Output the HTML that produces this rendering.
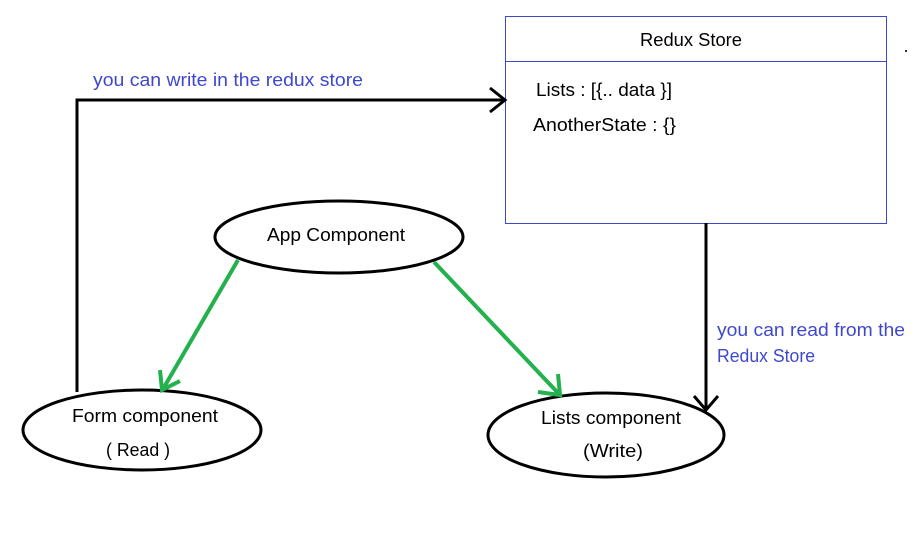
<!DOCTYPE html>
<html><head><meta charset="utf-8"><style>
html,body{margin:0;padding:0;background:#fff;}
svg{display:block;}
text{font-family:"Liberation Sans",sans-serif;}
</style></head><body>
<svg width="914" height="538" viewBox="0 0 914 538" xmlns="http://www.w3.org/2000/svg">
<rect x="0" y="0" width="914" height="538" fill="#fff"/>
<rect x="505.5" y="16.5" width="381" height="207" fill="#fff" stroke="#3f48cc" stroke-width="1"/>
<line x1="505" y1="61.5" x2="886" y2="61.5" stroke="#3f48cc" stroke-width="1"/>
<text x="640" y="46" font-size="18" textLength="102" lengthAdjust="spacingAndGlyphs">Redux Store</text>
<text x="536" y="96" font-size="18" textLength="136" lengthAdjust="spacingAndGlyphs">Lists : [{.. data }]</text>
<text x="533" y="131" font-size="18" textLength="143" lengthAdjust="spacingAndGlyphs">AnotherState : {}</text>
<rect x="905" y="50" width="2" height="2" fill="#333"/>
<polyline points="77,392 77,100 505,100" fill="none" stroke="#000" stroke-width="3"/>
<polyline points="490,88 505,100 490,112" fill="none" stroke="#000" stroke-width="3"/>
<text x="93" y="86" font-size="18" fill="#3f48cc" textLength="270" lengthAdjust="spacingAndGlyphs">you can write in the redux store</text>
<line x1="706" y1="223" x2="706" y2="410" stroke="#000" stroke-width="3"/>
<polyline points="694,396 706,410 718,396" fill="none" stroke="#000" stroke-width="3"/>
<text x="717" y="336" font-size="18" fill="#3f48cc" textLength="188" lengthAdjust="spacingAndGlyphs">you can read from the</text>
<text x="717" y="362" font-size="18" fill="#3f48cc" textLength="98" lengthAdjust="spacingAndGlyphs">Redux Store</text>
<ellipse cx="339" cy="237" rx="124" ry="36" fill="#fff" stroke="#000" stroke-width="3"/>
<text x="267" y="241" font-size="18" textLength="138" lengthAdjust="spacingAndGlyphs">App Component</text>
<ellipse cx="142" cy="430" rx="119" ry="40" fill="#fff" stroke="#000" stroke-width="3"/>
<text x="72" y="422" font-size="18" textLength="146" lengthAdjust="spacingAndGlyphs">Form component</text>
<text x="106" y="456" font-size="18" textLength="64" lengthAdjust="spacingAndGlyphs">( Read )</text>
<ellipse cx="606" cy="435" rx="118" ry="42" fill="#fff" stroke="#000" stroke-width="3"/>
<text x="541" y="424" font-size="18" textLength="140" lengthAdjust="spacingAndGlyphs">Lists component</text>
<text x="583" y="457" font-size="18" textLength="60" lengthAdjust="spacingAndGlyphs">(Write)</text>
<line x1="238" y1="260" x2="163" y2="389" stroke="#22b14c" stroke-width="4"/>
<polyline points="160,370 162,390 180,381" fill="none" stroke="#22b14c" stroke-width="4"/>
<line x1="434" y1="262" x2="559" y2="394" stroke="#22b14c" stroke-width="4"/>
<polyline points="538,392 560,395 558,374" fill="none" stroke="#22b14c" stroke-width="4"/>
</svg>
</body></html>
